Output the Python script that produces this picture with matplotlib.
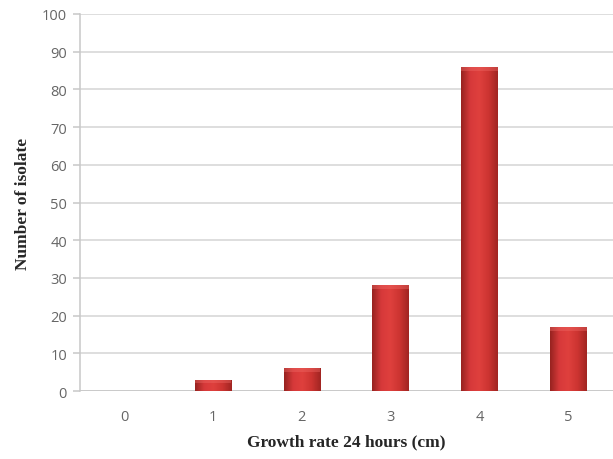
import numpy as np
import matplotlib
matplotlib.use("Agg")
from matplotlib import pyplot as plt
from matplotlib.colors import LinearSegmentedColormap

# Isolate counts per growth rate class
growth_rate = ["0", "1", "2", "3", "4", "5"]
isolates = [0, 3, 6, 28, 86, 17]
y_ticks = list(range(0, 101, 10))

fig = plt.figure(figsize=(6.13, 4.6), dpi=100)
ax = fig.add_axes([0.1297, 0.1478, 0.8703, 0.8196])

x = np.arange(len(growth_rate))
bars = ax.bar(x, isolates, width=0.41, color="#c4302e", edgecolor="none", zorder=3)

# Horizontal shading across each bar, to give it a rounded look
shade = LinearSegmentedColormap.from_list(
    "bar_shade", ["#96221f", "#d6393a", "#df403d", "#cc3431", "#a02522"])
grad = np.linspace(0, 1, 256).reshape(1, -1)
for rect in bars:
    h = rect.get_height()
    if h <= 0:
        continue
    x0 = rect.get_x()
    w = rect.get_width()
    im = ax.imshow(grad, cmap=shade, aspect="auto", extent=[x0, x0 + w, 0, h],
                   zorder=4, interpolation="bicubic")
    im.set_clip_path(rect)
    # lighter cap along the top edge
    cap = min(1.0, h * 0.3)
    ax.bar(x0 + w / 2, cap, width=w, bottom=h - cap, color="#ef6a66",
           alpha=0.4, edgecolor="none", zorder=5)

ax.set_xlim(-0.5, len(growth_rate) - 0.5)
ax.set_ylim(0, 100)
ax.set_xticks(x)
ax.set_xticklabels(growth_rate)
ax.set_yticks(y_ticks)

ax.yaxis.grid(True, color="#d4d4d4", linewidth=1.1, zorder=0)
ax.set_axisbelow(True)
for side in ["top", "right", "bottom"]:
    ax.spines[side].set_visible(False)
ax.spines["left"].set_color("#c8c8c8")
ax.spines["left"].set_linewidth(1.1)
ax.axhline(0, color="#c8c8c8", linewidth=1.3, zorder=2)

ax.tick_params(axis="y", length=5, color="#c8c8c8", width=1.1,
               labelsize=10.5, labelcolor="#666666", pad=4)
ax.tick_params(axis="x", length=0, labelsize=10.5, labelcolor="#666666", pad=13)
for lbl in ax.get_xticklabels() + ax.get_yticklabels():
    lbl.set_family("Open Sans")

ax.set_xlabel("Growth rate 24 hours (cm)", family="Liberation Serif",
              fontweight="bold", fontsize=12.5, color="#262626", labelpad=7)
ax.set_ylabel("Number of isolate", family="Liberation Serif",
              fontweight="bold", fontsize=12.5, color="#262626", labelpad=8)

fig.savefig("out.png", dpi=100)
